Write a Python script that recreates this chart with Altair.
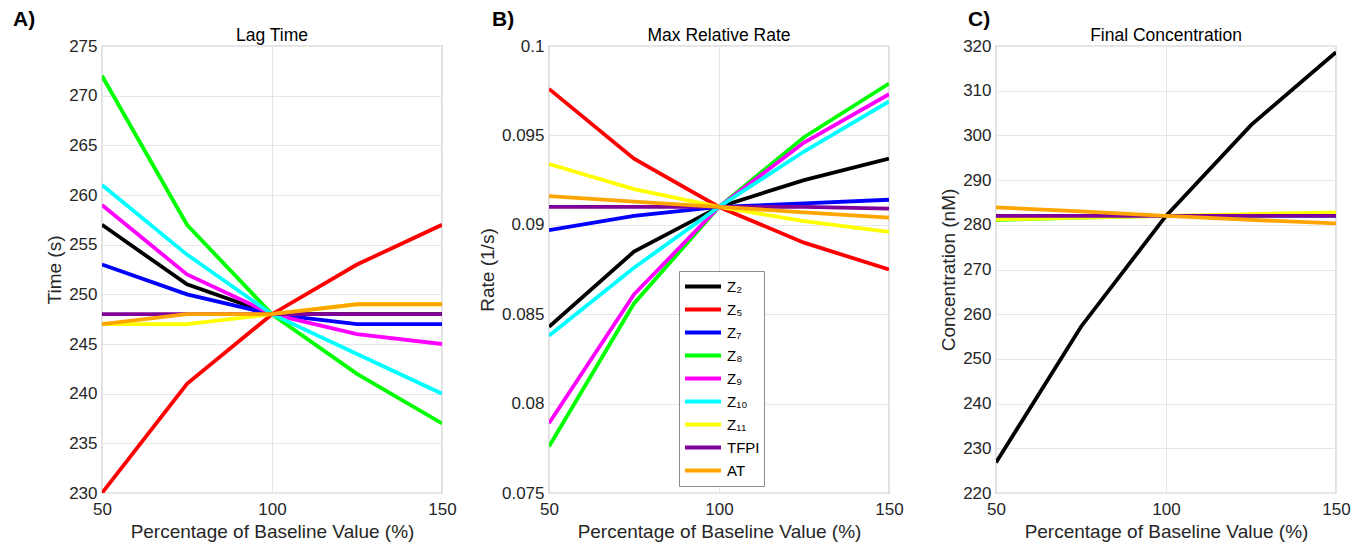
import altair as alt
import pandas as pd

# Percentage of baseline value for each perturbed factor
pct = [50, 75, 100, 125, 150]

factors = ["Z₂", "Z₅", "Z₇", "Z₈", "Z₉", "Z₁₀", "Z₁₁", "TFPI", "AT"]
colors = ["#000000", "#FF0000", "#0000FF", "#00FF00", "#FF00FF",
          "#00FFFF", "#FFFF00", "#80009A", "#FFA500"]

# A) Lag time (s)
lag_z2 = [257, 251, 248, 248, 248]
lag_z5 = [230, 241, 248, 253, 257]
lag_z7 = [253, 250, 248, 247, 247]
lag_z8 = [272, 257, 248, 242, 237]
lag_z9 = [259, 252, 248, 246, 245]
lag_z10 = [261, 254, 248, 244, 240]
lag_z11 = [247, 247, 248, 249, 249]
lag_tfpi = [248, 248, 248, 248, 248]
lag_at = [247, 248, 248, 249, 249]

# B) Max relative rate (1/s)
rate_z2 = [0.0843, 0.0885, 0.0910, 0.0925, 0.0937]
rate_z5 = [0.0976, 0.0937, 0.0910, 0.0890, 0.0875]
rate_z7 = [0.0897, 0.0905, 0.0910, 0.0912, 0.0914]
rate_z8 = [0.0776, 0.0856, 0.0910, 0.0949, 0.0979]
rate_z9 = [0.0789, 0.0861, 0.0910, 0.0946, 0.0973]
rate_z10 = [0.0838, 0.0876, 0.0910, 0.0941, 0.0969]
rate_z11 = [0.0934, 0.0920, 0.0910, 0.0902, 0.0896]
rate_tfpi = [0.0910, 0.0910, 0.0910, 0.0910, 0.0909]
rate_at = [0.0916, 0.0913, 0.0910, 0.0907, 0.0904]

# C) Final concentration (nM)
conc_z2 = [226.8, 257.2, 282.0, 302.3, 318.6]
conc_z5 = [282.0, 282.0, 282.0, 282.0, 282.0]
conc_z7 = [282.0, 282.0, 282.0, 282.0, 282.0]
conc_z8 = [281.1, 281.6, 282.0, 282.0, 282.0]
conc_z9 = [282.0, 282.0, 282.0, 282.0, 282.0]
conc_z10 = [282.0, 282.0, 282.0, 282.0, 282.0]
conc_z11 = [281.2, 281.6, 282.0, 282.4, 282.8]
conc_tfpi = [282.0, 282.0, 282.0, 282.0, 282.0]
conc_at = [283.9, 283.0, 282.0, 281.1, 280.3]

lag = [lag_z2, lag_z5, lag_z7, lag_z8, lag_z9, lag_z10, lag_z11, lag_tfpi, lag_at]
rate = [rate_z2, rate_z5, rate_z7, rate_z8, rate_z9, rate_z10, rate_z11, rate_tfpi, rate_at]
conc = [conc_z2, conc_z5, conc_z7, conc_z8, conc_z9, conc_z10, conc_z11, conc_tfpi, conc_at]


def long_table(series):
    rows = []
    for k, (name, vals) in enumerate(zip(factors, series)):
        for x, v in zip(pct, vals):
            rows.append({"pct": x, "value": v, "factor": name, "k": k})
    return pd.DataFrame(rows)


FONT = "Liberation Sans"
W, H = 340, 447

x_enc = alt.X("pct:Q", title="Percentage of Baseline Value (%)",
              scale=alt.Scale(domain=[50, 150], nice=False, zero=False),
              axis=alt.Axis(values=[50, 100, 150], format="d", labelFlush=False))


def panel(series, title, ytitle, ydomain, ystep, yfmt, label, label_dx, legend):
    df = long_table(series)
    n = int(round((ydomain[1] - ydomain[0]) / ystep))
    yticks = [round(ydomain[0] + i * ystep, 6) for i in range(n + 1)]
    color = alt.Color(
        "factor:N",
        scale=alt.Scale(domain=factors, range=colors),
        sort=factors,
        legend=legend,
    )
    lines = alt.Chart(df).mark_line(strokeWidth=3.8, clip=True).encode(
        x=x_enc,
        y=alt.Y("value:Q", title=ytitle,
                scale=alt.Scale(domain=ydomain, nice=False, zero=False),
                axis=alt.Axis(values=yticks, format=yfmt)),
        color=color,
        order=alt.Order("k:Q"),
    )
    # panel letter in the upper-left corner
    tag = alt.Chart(pd.DataFrame({"t": [label]})).mark_text(
        font=FONT, fontSize=21, fontWeight="bold", align="left",
        baseline="middle", color="#000000",
    ).encode(text="t:N", x=alt.value(label_dx), y=alt.value(-26))
    # panel heading centred above the plot frame
    head = alt.Chart(pd.DataFrame({"t": [title]})).mark_text(
        font=FONT, fontSize=17.5, align="center", baseline="alphabetic",
        color="#000000",
    ).encode(text="t:N", x=alt.value(W / 2), y=alt.value(-5))
    return alt.layer(lines, tag, head).properties(width=W, height=H)


legend_b = alt.Legend(
    title=None, orient="none", legendX=130, legendY=225,
    symbolType="stroke", symbolStrokeWidth=4, symbolSize=1296,
    labelFontSize=15, labelFont=FONT, labelColor="#000000",
    fillColor="#FFFFFF", strokeColor="#8c8c8c", padding=4,
    rowPadding=0, clipHeight=23, labelOffset=4, symbolOffset=0,
)

a = panel(lag, "Lag Time", "Time (s)", [230, 275], 5, "d", "A)", -89, None)
b = panel(rate, "Max Relative Rate", "Rate (1/s)", [0.075, 0.1], 0.005, "",
          "B)", -57, legend_b)
c = panel(conc, "Final Concentration", "Concentration (nM)", [220, 320], 10,
          "d", "C)", -28, None)

chart = alt.hconcat(a, b, c, spacing=107, bounds="flush").resolve_legend(
    color="independent"
).properties(
    padding={"left": 12, "top": 8, "right": 10, "bottom": 5},
).configure_view(
    stroke="#9a9a9a", strokeWidth=1.2,
).configure_axis(
    labelFont=FONT, titleFont=FONT, labelFontSize=17, titleFontSize=19,
    labelColor="#262626", titleColor="#262626", titleFontWeight="normal",
    domain=False, ticks=False, grid=True, gridColor="#e6e6e6",
    gridWidth=1, labelPadding=5,
).configure_axisY(
    titlePadding=4,
).configure_axisX(
    titlePadding=5, labelPadding=8,
)

chart.save("out.html", embed_options={"renderer": "svg", "actions": False})
